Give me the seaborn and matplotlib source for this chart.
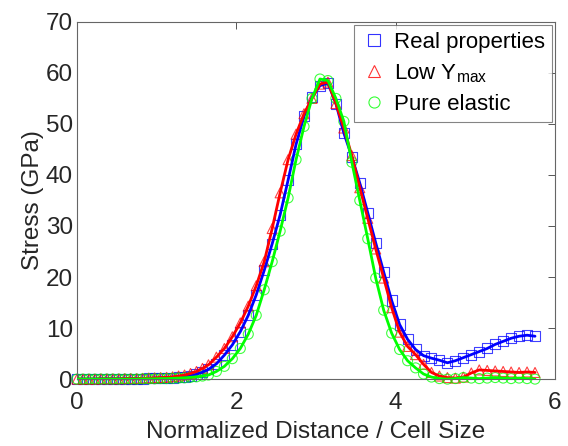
import numpy as np
import pandas as pd
import matplotlib
matplotlib.use("Agg")
import matplotlib.pyplot as plt
from matplotlib.lines import Line2D
import seaborn as sns

# Sample positions (normalized distance / cell size)
dist_pre = [0.0, 0.075, 0.15, 0.225, 0.3, 0.375, 0.45, 0.525, 0.6, 0.675, 0.75,
            0.825, 0.9, 0.975, 1.05, 1.125, 1.2, 1.275, 1.35, 1.425, 1.5, 1.575]
dist_wave = [1.65, 1.75, 1.85, 1.95, 2.05, 2.15, 2.25, 2.35, 2.45, 2.55,
             2.65, 2.75, 2.85, 2.95, 3.05, 3.15, 3.25, 3.35, 3.45, 3.55,
             3.65, 3.75, 3.85, 3.95, 4.05, 4.15, 4.25, 4.35, 4.45, 4.55,
             4.65, 4.75, 4.85, 4.95, 5.05, 5.15, 5.25, 5.35, 5.45, 5.55,
             5.65, 5.75]

# Stress (GPa) for each material model
real_pre = [0, 0, 0, 0, 0.05, 0.05, 0.05, 0.05, 0.05, 0.1, 0.1,
            0.1, 0.15, 0.15, 0.2, 0.25, 0.3, 0.4, 0.5, 0.7, 0.95, 1.35]
real_wave = [1.9, 3.0, 4.7, 6.7, 9.3, 12.5, 16.5, 21.3, 26.5, 32.2,
             39.0, 46.0, 51.5, 55.2, 57.5, 58.0, 54.0, 48.2, 43.6, 38.4,
             32.6, 26.7, 21.0, 15.4, 10.7, 7.8, 5.8, 4.6, 4.1, 3.7,
             3.2, 3.6, 4.2, 4.8, 5.4, 6.0, 6.8, 7.4, 8.0, 8.4,
             8.6, 8.4]

lowy_pre = [0, 0, 0, 0, 0.05, 0.05, 0.05, 0.05, 0.1, 0.1, 0.1,
            0.15, 0.2, 0.25, 0.3, 0.35, 0.45, 0.6, 0.8, 1.1, 1.5, 2.1]
lowy_wave = [2.8, 4.3, 6.0, 8.3, 11.0, 14.3, 18.3, 23.0, 29.5, 36.5,
             43.0, 48.0, 52.0, 55.0, 57.8, 58.2, 54.0, 49.2, 43.8, 37.5,
             31.5, 25.5, 19.8, 14.0, 9.2, 6.4, 4.8, 2.9, 1.3, 0.6,
             0.3, 0.2, 0.4, 1.2, 1.8, 1.7, 1.6, 1.5, 1.4, 1.3,
             1.4, 1.3]

elastic_pre = [0, 0, 0, 0, 0, 0, 0, 0, 0, 0, 0,
               0.05, 0.05, 0.05, 0.1, 0.1, 0.15, 0.2, 0.25, 0.35, 0.45, 0.6]
elastic_wave = [0.8, 1.5, 2.5, 4.0, 6.0, 8.8, 12.5, 17.5, 23.0, 29.0,
                35.5, 43.0, 49.5, 55.0, 58.8, 58.5, 55.0, 50.5, 42.5, 35.0,
                27.5, 19.8, 13.5, 9.0, 5.8, 3.6, 2.2, 1.0, 0.4, 0.1,
                0.0, 0.1, 0.3, 0.2, 0.1, 0.2, 0.3, 0.2, 0.1, 0.2,
                0.1, 0.0]

series_names = ["Real properties", "Low Y$_{\\rm max}$", "Pure elastic"]
series_colors = ["#0000ff", "#ff0000", "#00ff00"]
series_markers = ["s", "^", "o"]

distance = dist_pre + dist_wave
stress = {
    series_names[0]: real_pre + real_wave,
    series_names[1]: lowy_pre + lowy_wave,
    series_names[2]: elastic_pre + elastic_wave,
}

sns.set_style("white")
plt.rcParams["font.family"] = ["Liberation Sans", "DejaVu Sans"]
plt.rcParams["mathtext.fontset"] = "custom"
plt.rcParams["mathtext.rm"] = "Liberation Sans"
plt.rcParams["mathtext.it"] = "Liberation Sans"

fig = plt.figure(figsize=(5.68, 4.46), dpi=100)
ax = fig.add_axes([0.1356, 0.150, 0.8414, 0.801])

# open markers underneath
for name, col, mk in zip(series_names, series_colors, series_markers):
    df = pd.DataFrame({"d": distance, "s": stress[name]})
    sns.scatterplot(data=df, x="d", y="s", ax=ax, marker=mk, s=52,
                    facecolors="none", edgecolor=col, linewidth=0.8,
                    alpha=0.75, clip_on=False, legend=False, zorder=2)

# solid curves on top
for name, col in zip(series_names, series_colors):
    df = pd.DataFrame({"d": distance, "s": stress[name]})
    sns.lineplot(data=df, x="d", y="s", ax=ax, color=col, linewidth=2.0,
                 legend=False, zorder=3, sort=False)

ax.set_xlim(0, 6)
ax.set_ylim(0, 70)
ax.set_xticks([0, 2, 4, 6])
ax.set_yticks(range(0, 71, 10))

txt = "#262626"
ax.set_xlabel("Normalized Distance / Cell Size", fontsize=17.5, color=txt, labelpad=5)
ax.set_ylabel("Stress (GPa)", fontsize=17.5, color=txt, labelpad=1)
ax.tick_params(axis="both", which="both", direction="in", length=5, width=0.7,
               labelsize=17.5, labelcolor=txt, color="#555555",
               top=True, right=True, pad=3)
ax.tick_params(axis="x", pad=9)
for sp in ax.spines.values():
    sp.set_visible(True)
    sp.set_color("#666666")
    sp.set_linewidth(0.8)

handles = [Line2D([], [], linestyle="none", marker=mk, markersize=8,
                  markerfacecolor="none", markeredgecolor=col,
                  markeredgewidth=0.8, alpha=0.8)
           for col, mk in zip(series_colors, series_markers)]
leg = ax.legend(handles, series_names, loc="upper right", fontsize=16,
                frameon=True, fancybox=False, edgecolor="#666666",
                borderaxespad=0.15, handletextpad=0.3, labelspacing=0.42,
                borderpad=0.3, handlelength=1.2)
leg.get_frame().set_linewidth(0.8)
for t in leg.get_texts():
    t.set_color("#000000")

fig.savefig("out.png", dpi=100, facecolor="white")
